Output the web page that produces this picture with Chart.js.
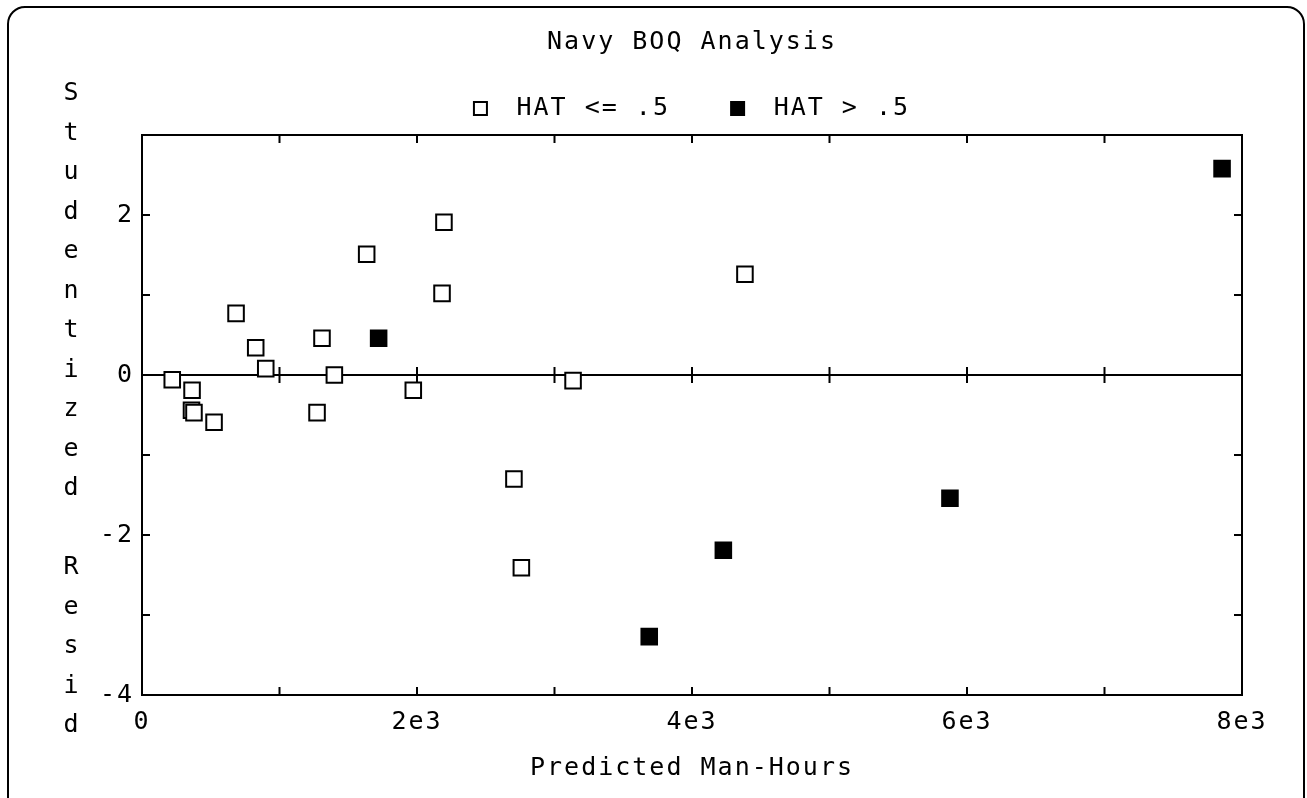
<!DOCTYPE html>
<html>
<head>
<meta charset="utf-8">
<script src="https://cdn.jsdelivr.net/npm/chart.js@4.4.1/dist/chart.umd.min.js"></script>
<style>
  html, body { margin: 0; padding: 0; background: #fff; overflow: hidden; }
  #wrap { position: absolute; left: 0; top: 0; width: 1307px; height: 798px; }
  #frame { position: absolute; left: 7px; top: 6px; width: 1298px; height: 820px;
           border: 2px solid #000; border-radius: 18px; box-sizing: border-box; pointer-events: none; }
  canvas { position: absolute; left: 0; top: 0; }
</style>
</head>
<body>
<div id="wrap">
  <div id="frame"></div>
  <canvas id="c" width="1307" height="798"></canvas>
</div>
<script>
// ---- data ----
const chartTitle = 'Navy BOQ Analysis';
const xTitle = 'Predicted Man-Hours';
const yTitle = 'Studentized Resid';
const lowLabel = 'HAT <= .5';
const highLabel = 'HAT > .5';

// HAT <= .5 (open squares)
const lowX = [1634, 684, 827, 900, 1309, 1399, 220, 364, 360, 378, 524, 1273, 1973, 2196, 2182, 4385, 3135, 2705, 2759];
const lowY = [1.51, 0.77, 0.34, 0.08, 0.46, 0.0, -0.06, -0.19, -0.44, -0.47, -0.59, -0.47, -0.19, 1.91, 1.02, 1.26, -0.07, -1.30, -2.41];
// HAT > .5 (filled squares)
const highX = [1721, 7855, 3689, 4228, 5876];
const highY = [0.46, 2.58, -3.27, -2.19, -1.54];

const xMin = 0, xMax = 8000, xStep = 1000;
const yMin = -4, yMax = 3, yStep = 1;
const xTickLabels = {0: '0', 2000: '2e3', 4000: '4e3', 6000: '6e3', 8000: '8e3'};
const yTickLabels = {'-4': '-4', '-2': '-2', '0': '0', '2': '2'};

const FONT = "'DejaVu Sans Mono', monospace";
const FS = 25;
const SPACING = '2px';

const toPoints = (xs, ys) => xs.map((v, i) => ({x: v, y: ys[i]}));

const spacingPlugin = {
  id: 'letterSpacing',
  beforeInit(c) { c.ctx.letterSpacing = SPACING; },
  beforeUpdate(c) { c.ctx.letterSpacing = SPACING; },
  beforeLayout(c) { c.ctx.letterSpacing = SPACING; },
  beforeDraw(c) { c.ctx.letterSpacing = SPACING; }
};

const framePlugin = {
  id: 'frameTicks',
  beforeDatasetsDraw(chart) {
    const {ctx, chartArea: a, scales: {x, y}} = chart;
    ctx.save();
    ctx.strokeStyle = '#000';
    ctx.lineWidth = 2;
    ctx.lineCap = 'butt';
    ctx.strokeRect(a.left, a.top, a.right - a.left, a.bottom - a.top);
    const y0 = y.getPixelForValue(0);
    ctx.beginPath();
    ctx.moveTo(a.left, y0); ctx.lineTo(a.right, y0);
    const L = 8;
    x.ticks.forEach(t => {
      const px = x.getPixelForValue(t.value);
      if (px <= a.left + 1 || px >= a.right - 1) return;
      ctx.moveTo(px, a.bottom); ctx.lineTo(px, a.bottom - L);
      ctx.moveTo(px, a.top); ctx.lineTo(px, a.top + L);
      ctx.moveTo(px, y0 - L); ctx.lineTo(px, y0 + L);
    });
    y.ticks.forEach(t => {
      const py = y.getPixelForValue(t.value);
      if (py <= a.top + 1 || py >= a.bottom - 1) return;
      ctx.moveTo(a.left, py); ctx.lineTo(a.left + L, py);
      ctx.moveTo(a.right, py); ctx.lineTo(a.right - L, py);
    });
    ctx.stroke();
    ctx.restore();
  }
};

const yTitlePlugin = {
  id: 'yTitleStack',
  afterDraw(chart) {
    const {ctx} = chart;
    ctx.save();
    ctx.fillStyle = '#000';
    ctx.font = FS + 'px ' + FONT;
    ctx.letterSpacing = '0px';
    ctx.textAlign = 'center';
    ctx.textBaseline = 'alphabetic';
    const letters = yTitle.split('');
    letters.forEach((ch, i) => {
      if (ch.trim() === '') return;
      ctx.fillText(ch, 71, 100 + i * 39.5);
    });
    ctx.restore();
  }
};

new Chart(document.getElementById('c'), {
  type: 'scatter',
  data: {
    datasets: [
      {
        label: ' ' + lowLabel + '   ',
        data: toPoints(lowX, lowY),
        pointStyle: 'rect',
        pointRadius: 11,
        pointHoverRadius: 11,
        backgroundColor: '#fff',
        borderColor: '#000',
        borderWidth: 2
      },
      {
        label: ' ' + highLabel,
        data: toPoints(highX, highY),
        pointStyle: 'rect',
        pointRadius: 11,
        pointHoverRadius: 11,
        backgroundColor: '#000',
        borderColor: '#000',
        borderWidth: 2
      }
    ]
  },
  options: {
    responsive: false,
    animation: false,
    devicePixelRatio: 1,
    layout: { padding: { top: 0, left: 0, right: 65, bottom: 0 } },
    plugins: {
      tooltip: { enabled: false },
      title: {
        display: true,
        text: chartTitle,
        color: '#000',
        fullSize: false,
        font: { family: FONT, size: FS, weight: 'normal' },
        padding: { top: 27, bottom: 29 }
      },
      legend: {
        display: true,
        position: 'top',
        fullSize: false,
        labels: {
          color: '#000',
          font: { family: FONT, size: FS, weight: 'normal' },
          boxWidth: 13,
          boxHeight: 13,
          padding: 10
        }
      }
    },
    scales: {
      x: {
        type: 'linear',
        position: 'bottom',
        min: xMin, max: xMax,
        afterFit(s) { s.height = 103; },
        grid: { display: false, drawTicks: false },
        border: { display: false },
        ticks: {
          stepSize: xStep,
          autoSkip: false,
          maxRotation: 0,
          padding: 12,
          color: '#000',
          font: { family: FONT, size: FS },
          callback: v => (xTickLabels[v] !== undefined ? xTickLabels[v] : '')
        },
        title: {
          display: true,
          text: xTitle,
          color: '#000',
          font: { family: FONT, size: FS },
          padding: { top: 0, bottom: 15 }
        }
      },
      xTop: {
        type: 'linear',
        position: 'top',
        min: xMin, max: xMax,
        afterFit(s) { s.height = 4; },
        grid: { display: false, drawTicks: false },
        border: { display: false },
        ticks: { display: false }
      },
      y: {
        type: 'linear',
        position: 'left',
        min: yMin, max: yMax,
        afterFit(s) { s.width = 142; },
        grid: { display: false, drawTicks: false },
        border: { display: false },
        ticks: {
          stepSize: yStep,
          autoSkip: false,
          padding: 8,
          color: '#000',
          font: { family: FONT, size: FS },
          callback: v => (yTickLabels[String(v)] !== undefined ? yTickLabels[String(v)] : '')
        }
      }
    }
  },
  plugins: [spacingPlugin, framePlugin, yTitlePlugin]
});
</script>
</body>
</html>
